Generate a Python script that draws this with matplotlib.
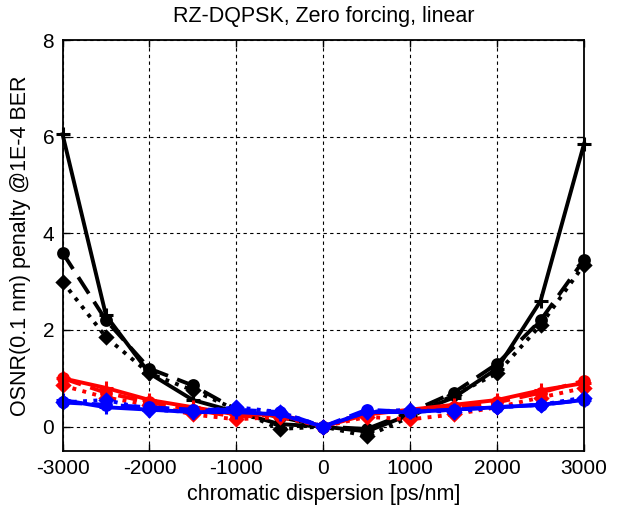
import matplotlib
matplotlib.use("Agg")
import matplotlib.pyplot as plt

plt.rcParams['font.family'] = ['Liberation Sans', 'DejaVu Sans']
plt.rcParams['axes.unicode_minus'] = False

cd = [-3000, -2500, -2000, -1500, -1000, -500, 0, 500, 1000, 1500, 2000, 2500, 3000]

black_solid = [6.05, 2.3, 1.1, 0.55, 0.3, 0.05, 0.0, -0.1, 0.25, 0.6, 1.2, 2.6, 5.85]
black_dash = [3.6, 2.2, 1.2, 0.85, 0.35, 0.2, 0.0, -0.05, 0.3, 0.7, 1.3, 2.2, 3.45]
black_dot = [3.0, 1.85, 1.1, 0.75, 0.35, -0.05, 0.0, -0.2, 0.2, 0.65, 1.1, 2.1, 3.35]

red_solid = [1.0, 0.8, 0.55, 0.4, 0.25, 0.25, 0.0, 0.25, 0.35, 0.45, 0.55, 0.75, 0.9]
red_dash = [1.0, 0.7, 0.5, 0.35, 0.2, 0.25, 0.0, 0.3, 0.3, 0.4, 0.5, 0.7, 0.95]
red_dot = [0.85, 0.6, 0.45, 0.25, 0.15, 0.2, 0.0, 0.2, 0.15, 0.25, 0.4, 0.6, 0.8]

blue_solid = [0.55, 0.4, 0.35, 0.3, 0.3, 0.25, 0.0, 0.3, 0.3, 0.35, 0.4, 0.45, 0.55]
blue_dash = [0.5, 0.45, 0.4, 0.35, 0.35, 0.3, 0.0, 0.35, 0.3, 0.35, 0.4, 0.45, 0.55]
blue_dot = [0.5, 0.55, 0.35, 0.3, 0.4, 0.3, 0.0, 0.3, 0.35, 0.3, 0.4, 0.45, 0.6]

fig = plt.figure(figsize=(6.42, 5.07), dpi=100)
ax = fig.add_axes([0.0974, 0.111, 0.8123, 0.810])

lw = 2.8
series = [
    (black_solid, 'k', '-', '+', 10),
    (black_dash, 'k', (0, (5, 2.5)), 'o', 7),
    (black_dot, 'k', ':', 'D', 6),
    (red_solid, 'r', '-', '+', 10),
    (red_dash, 'r', (0, (5, 2.5)), 'o', 7),
    (red_dot, 'r', ':', 'D', 6),
    (blue_solid, 'b', '-', '+', 10),
    (blue_dash, 'b', (0, (5, 2.5)), 'o', 7),
    (blue_dot, 'b', ':', 'D', 6),
]
for ys, c, ls, mk, ms in series:
    ax.plot(cd, ys, color=c, linestyle=ls, linewidth=lw, marker=mk, markersize=ms,
            markeredgewidth=2.2, markerfacecolor=c, markeredgecolor=c, clip_on=False)

ax.set_xlim(-3000, 3000)
ax.set_ylim(-0.5, 8)
ax.set_xticks([-3000, -2000, -1000, 0, 1000, 2000, 3000])
ax.set_yticks([0, 2, 4, 6, 8])
ax.grid(True, color='k', linestyle=(0, (3, 3)), linewidth=0.8)
ax.tick_params(direction='in', labelsize=15, length=5, width=1, top=True, right=True, pad=6)
for s in ax.spines.values():
    s.set_linewidth(1.3)
ax.set_title('RZ-DQPSK, Zero forcing, linear', fontsize=15.5, pad=13)
ax.set_xlabel('chromatic dispersion [ps/nm]', fontsize=15.5, labelpad=4)
ax.set_ylabel('OSNR(0.1 nm) penalty @1E-4 BER', fontsize=15.5, labelpad=8)

fig.savefig('out.png', dpi=100)
